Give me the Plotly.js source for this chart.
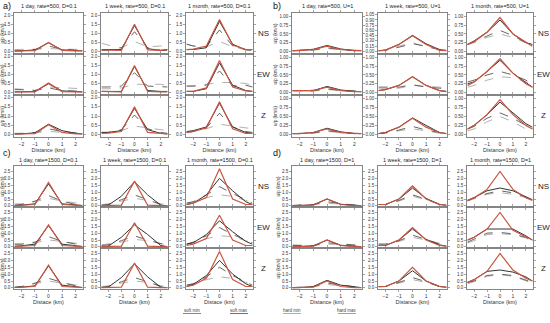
<!DOCTYPE html>
<html><head><meta charset="utf-8">
<script src="https://cdn.plot.ly/plotly-3.0.1.min.js"></script>
<style>html,body{margin:0;padding:0;background:#fff}#chart{width:550px;height:323px}</style>
</head><body><div id="chart"></div>
<script>
// Distance samples (km)
const distance = [-2.5, -2, -1, 0, 1, 2, 2.5];
// order inside each panel: NS-day, NS-week, NS-month, EW-day, EW-week, EW-month, Z-day, Z-week, Z-month
const timeLabels = ["1 day", "1 week", "1 month"];
const componentLabels = ["NS", "EW", "Z"];
const panelLabels = ["a)", "b)", "c)", "d)"];
const panelRates = ["rate=500, D=0.1", "rate=500, U=1", "rate=1500, D=0.1", "rate=1500, D=1"];
const legendLabels = ["soft min", "soft max", "hard min", "hard max"];

const aRed = [
 [0.02,0.02,0.04,0.5,0.05,0.02,0.02],[0.08,0.08,0.05,1.52,0.08,0.05,0.1],[0.1,0.12,0.3,1.78,0.35,0.1,0.1],
 [0.02,0.02,0.03,0.52,0.04,0.02,0.02],[0.05,0.05,0.03,1.5,0.05,0.03,0.03],[0.05,0.06,0.25,1.78,0.3,0.08,0.05],
 [0.02,0.02,0.04,0.52,0.1,0.02,0.02],[0.05,0.06,0.15,1.5,0.1,0.02,0.02],[0.1,0.15,0.35,1.78,0.3,0.05,0.05]];
const aBlack = [
 [0.03,0.03,0.08,0.48,0.08,0.03,0.03],[0.1,0.1,0.1,1.45,0.15,0.05,0.1],[0.1,0.1,0.2,1.68,0.4,0.08,0.1],
 [0.02,0.02,0.05,0.48,0.08,0.05,0.02],[0.05,0.05,0.05,1.45,0.1,0.05,0.05],[0.05,0.05,0.2,1.65,0.4,0.1,0.05],
 [0.02,0.02,0.08,0.55,0.2,0.05,0.02],[0.1,0.1,0.2,1.42,0.25,0.05,0.02],[0.15,0.2,0.4,1.7,0.4,0.1,0.05]];
const aDash = [
 [0.02,0.03,0.1,0.3,0.12,0.05,0.03],[0.05,0.06,0.2,1.1,0.2,0.05,0.05],[0.4,0.3,0.25,1.2,0.3,0.1,0.05],
 [0.15,0.15,0.1,0.25,0.1,0.05,0.05],[0.3,0.3,0.35,1.1,0.35,0.3,0.3],[0.35,0.35,0.4,1.2,0.35,0.4,0.3],
 [0.02,0.03,0.1,0.3,0.15,0.05,0.03],[0.1,0.1,0.25,1.05,0.3,0.1,0.05],[0.1,0.15,0.35,1.15,0.4,0.15,0.1]];
const aLight = [
 [0.1,0.1,0.12,0.15,0.12,0.1,0.1],[0.45,0.35,0.2,0.55,0.25,0.3,0.4],[0.4,0.3,0.25,0.55,0.25,0.1,0.15],
 [0.2,0.18,0.12,0.3,0.25,0.22,0.2],[0.2,0.2,0.25,0.45,0.45,0.45,0.4],[0.35,0.35,0.45,0.55,0.55,0.5,0.4],
 [0.05,0.05,0.08,0.15,0.1,0.05,0.05],[0.1,0.1,0.2,0.45,0.35,0.25,0.2],[0.1,0.15,0.3,0.55,0.45,0.35,0.3]];

const bRed = [
 [0.02,0.02,0.05,0.15,0.05,0.02,0.02],[0.02,0.03,0.2,0.45,0.2,0.03,0.02],[0.2,0.28,0.55,0.97,0.5,0.25,0.15],
 [0.05,0.05,0.05,0.15,0.05,0.02,0.02],[0.05,0.08,0.2,0.45,0.2,0.05,0.02],[0.2,0.3,0.6,0.97,0.55,0.25,0.15],
 [0.02,0.02,0.05,0.15,0.05,0.02,0.02],[0.02,0.05,0.2,0.45,0.2,0.05,0.02],[0.15,0.25,0.55,0.97,0.55,0.25,0.15]];
const bBlack = [
 [0.02,0.03,0.06,0.17,0.07,0.02,0.02],[0.02,0.04,0.2,0.46,0.22,0.05,0.03],[0.2,0.3,0.55,0.9,0.5,0.25,0.2],
 [0.05,0.05,0.05,0.17,0.07,0.03,0.02],[0.05,0.08,0.2,0.45,0.2,0.05,0.03],[0.25,0.3,0.6,0.92,0.55,0.3,0.15],
 [0.02,0.02,0.05,0.17,0.07,0.02,0.02],[0.02,0.05,0.2,0.46,0.25,0.05,0.02],[0.15,0.25,0.55,0.9,0.6,0.3,0.2]];
const bDash = [
 [0.02,0.02,0.04,0.1,0.05,0.02,0.02],[0.02,0.03,0.12,0.22,0.15,0.05,0.03],[0.2,0.28,0.45,0.6,0.45,0.25,0.15],
 [0.05,0.05,0.04,0.1,0.05,0.03,0.02],[0.15,0.15,0.15,0.22,0.15,0.12,0.1],[0.3,0.35,0.5,0.6,0.5,0.35,0.25],
 [0.02,0.02,0.04,0.1,0.05,0.02,0.02],[0.02,0.04,0.12,0.22,0.12,0.04,0.02],[0.15,0.22,0.45,0.6,0.45,0.25,0.15]];
const bLight = [
 [0.02,0.02,0.04,0.08,0.04,0.02,0.02],[0.02,0.03,0.15,0.25,0.12,0.05,0.03],[0.2,0.25,0.4,0.5,0.4,0.25,0.15],
 [0.05,0.06,0.06,0.08,0.06,0.06,0.05],[0.1,0.1,0.12,0.2,0.18,0.15,0.12],[0.15,0.2,0.35,0.45,0.42,0.3,0.2],
 [0.02,0.02,0.03,0.08,0.04,0.02,0.02],[0.02,0.03,0.1,0.15,0.1,0.03,0.02],[0.1,0.15,0.35,0.5,0.35,0.15,0.1]];

const cRed = [
 [0.03,0.05,0.1,1.7,0.1,0.05,0.03],[0.02,0.02,0.05,1.8,0.05,0.02,0.02],[0.1,0.2,0.6,2.7,0.5,0.1,0.1],
 [0.03,0.05,0.1,1.6,0.1,0.05,0.03],[0.02,0.02,0.05,1.75,0.05,0.02,0.02],[0.1,0.2,0.6,2.3,0.5,0.1,0.1],
 [0.03,0.05,0.1,1.65,0.1,0.05,0.03],[0.02,0.02,0.05,1.8,0.05,0.02,0.02],[0.1,0.2,0.7,2.65,0.6,0.1,0.1]];
const cBlack = [
 [0.03,0.05,0.15,1.6,0.15,0.05,0.03],[0.02,0.05,0.7,1.75,0.8,0.05,0.02],[0.1,0.2,0.8,2.0,1.1,0.3,0.1],
 [0.05,0.08,0.2,1.55,0.2,0.05,0.03],[0.02,0.05,0.7,1.6,0.9,0.1,0.02],[0.2,0.3,0.9,1.9,1.1,0.4,0.2],
 [0.03,0.05,0.15,1.6,0.2,0.05,0.03],[0.02,0.05,0.75,1.75,0.8,0.05,0.02],[0.1,0.25,0.9,2.0,1.0,0.3,0.1]];
const cDash = [
 [0.05,0.1,0.35,0.75,0.35,0.1,0.05],[0.05,0.1,0.45,0.8,0.45,0.1,0.05],[0.2,0.3,0.8,1.4,0.9,0.4,0.2],
 [0.2,0.2,0.35,0.75,0.4,0.2,0.1],[0.1,0.15,0.45,0.8,0.5,0.2,0.1],[0.2,0.35,0.8,1.4,0.9,0.5,0.3],
 [0.05,0.1,0.35,0.7,0.4,0.15,0.1],[0.05,0.1,0.45,0.75,0.45,0.1,0.05],[0.2,0.3,0.8,1.5,0.9,0.4,0.2]];
const cLight = [
 [0.15,0.15,0.3,0.55,0.35,0.2,0.15],[0.1,0.15,0.35,0.55,0.4,0.15,0.1],[0.2,0.3,0.6,0.8,0.7,0.4,0.25],
 [0.2,0.2,0.3,0.5,0.4,0.25,0.2],[0.15,0.2,0.35,0.55,0.45,0.25,0.15],[0.2,0.3,0.6,0.8,0.75,0.45,0.3],
 [0.05,0.1,0.3,0.5,0.35,0.2,0.15],[0.1,0.15,0.35,0.5,0.4,0.15,0.1],[0.2,0.3,0.6,0.8,0.7,0.4,0.25]];

const dRed = [
 [0.02,0.02,0.05,0.5,0.1,0.02,0.02],[0.1,0.1,0.5,1.45,0.5,0.1,0.05],[0.4,0.6,1.2,2.5,1.2,0.6,0.4],
 [0.02,0.02,0.05,0.5,0.1,0.02,0.02],[0.1,0.1,0.5,1.4,0.5,0.1,0.05],[0.5,0.7,1.3,2.5,1.2,0.7,0.5],
 [0.02,0.02,0.05,0.5,0.1,0.02,0.02],[0.1,0.1,0.5,1.5,0.5,0.1,0.05],[0.4,0.6,1.2,2.5,1.3,0.7,0.5]];
const dBlack = [
 [0.02,0.02,0.08,0.5,0.12,0.03,0.02],[0.1,0.1,0.5,1.3,0.55,0.1,0.05],[0.4,0.6,1.1,1.3,1.1,0.7,0.45],
 [0.02,0.02,0.08,0.5,0.12,0.03,0.02],[0.1,0.1,0.5,1.3,0.55,0.15,0.05],[0.5,0.7,1.3,1.3,1.3,0.8,0.5],
 [0.02,0.02,0.1,0.55,0.2,0.05,0.02],[0.1,0.1,0.5,1.25,0.5,0.1,0.05],[0.4,0.6,1.2,1.3,1.15,0.8,0.5]];
const dDash = [
 [0.02,0.03,0.1,0.3,0.15,0.05,0.02],[0.1,0.1,0.4,0.8,0.5,0.1,0.05],[0.4,0.55,0.9,1.1,0.95,0.65,0.4],
 [0.1,0.1,0.1,0.3,0.2,0.1,0.1],[0.2,0.2,0.45,0.85,0.55,0.2,0.1],[0.35,0.55,1.0,1.05,0.95,0.7,0.45],
 [0.02,0.03,0.1,0.35,0.2,0.05,0.02],[0.1,0.1,0.4,0.75,0.45,0.1,0.05],[0.4,0.5,0.9,1.0,0.9,0.6,0.4]];
const dLight = [
 [0.05,0.05,0.1,0.2,0.1,0.05,0.05],[0.1,0.1,0.35,0.7,0.45,0.15,0.1],[0.35,0.5,0.85,0.95,0.85,0.6,0.35],
 [0.15,0.15,0.1,0.2,0.15,0.1,0.1],[0.2,0.2,0.4,0.7,0.5,0.25,0.15],[0.3,0.45,0.9,0.95,0.9,0.65,0.4],
 [0.02,0.02,0.08,0.25,0.15,0.05,0.02],[0.05,0.1,0.35,0.6,0.4,0.1,0.05],[0.3,0.45,0.85,0.95,0.85,0.55,0.35]];

const panels = [
  {red:aRed, black:aBlack, dash:aDash, light:aLight},
  {red:bRed, black:bBlack, dash:bDash, light:bLight},
  {red:cRed, black:cBlack, dash:cDash, light:cLight},
  {red:dRed, black:dBlack, dash:dDash, light:dLight}
];

const W = 550, H = 323;
const px = x => x / W;
const py = y => 1 - y / H;
const colsLeft = [[14,83],[101,168],[186,253]];
const colsRight = [[292,362],[378,447],[467,533]];
const rowsTop = [[13,54],[54,95],[95,137]];
const rowsBot = [[166,207],[207,248],[248,289]];
const fontFam = "Liberation Sans, Arial, sans-serif";

const data = [];
const layout = {
  width: W, height: H, margin:{l:0,r:0,t:0,b:0},
  paper_bgcolor:'#fff', plot_bgcolor:'#fff', showlegend:false,
  font:{family:fontFam, size:5, color:'#333'},
  annotations:[], shapes:[]
};

const styles = [
  {key:'light', color:'#a8a8a8', width:0.9, dash:'dash'},
  {key:'dash', color:'#555555', width:0.9, dash:'dash'},
  {key:'black', color:'#333333', width:1.0, dash:'solid'},
  {key:'red', color:'#c8553f', width:1.2, dash:'solid'}
];

for (let p = 0; p < 4; p++) {
  const cols = (p % 2 === 0) ? colsLeft : colsRight;
  const rows = (p < 2) ? rowsTop : rowsBot;
  let yr, dt, fmt;
  if (p === 0) { yr = [-0.15, 2.15]; dt = 0.5; fmt = '.1f'; }
  else if (p === 1) { yr = [-0.075, 1.1]; dt = 0.25; fmt = '.2f'; }
  else { yr = [-0.08, 2.9]; dt = 0.5; fmt = '.1f'; }
  for (let i = 0; i < 9; i++) {
    const r = Math.floor(i / 3), c = i % 3;
    const k = p * 9 + i + 1;
    const xa = 'x' + (k === 1 ? '' : k), ya = 'y' + (k === 1 ? '' : k);
    const xn = 'xaxis' + (k === 1 ? '' : k), yn = 'yaxis' + (k === 1 ? '' : k);
    styles.forEach(s => {
      data.push({x: distance, y: panels[p][s.key][i], type:'scatter', mode:'lines',
        xaxis: xa, yaxis: ya, line:{color:s.color, width:s.width, dash:s.dash}, hoverinfo:'skip'});
    });
    const common = {showline:true, mirror:'ticks', linecolor:'#666', linewidth:0.8,
      ticks:'outside', ticklen:2, tickwidth:0.6, tickcolor:'#666', showgrid:false, zeroline:false,
      tickfont:{size:4.5, color:'#333', family:fontFam}};
    layout[xn] = Object.assign({}, common, {
      domain:[px(cols[c][0]), px(cols[c][1])], range:[-2.55, 2.55],
      tickvals:[-2,-1,0,1,2], showticklabels: r === 2, anchor: ya,
      tickfont:{size:5, color:'#333', family:fontFam},
      title: r === 2 ? {text: p === 2 ? 'Distace (km)' : 'Distance (km)', font:{size:5.5, color:'#333'}, standoff:1} : {text:''}
    });
    let ydt = dt;
    if (p === 1 && i === 1) ydt = 0.15;
    layout[yn] = Object.assign({}, common, {
      domain:[py(rows[r][1]), py(rows[r][0])], range: yr, dtick: ydt, tick0:0, tickformat: fmt,
      anchor: xa,
      title: c === 0 ? {text:'u/p (km/s)', font:{size:4.5, color:'#333'}, standoff:1} : {text:''}
    });
  }
  // column titles
  const titleY = (p < 2) ? 6 : 160;
  for (let c = 0; c < 3; c++) {
    layout.annotations.push({xref:'paper', yref:'paper', x: px((cols[c][0]+cols[c][1])/2), y: py(titleY),
      text: timeLabels[c] + ', ' + panelRates[p], showarrow:false, font:{size:5.5, color:'#222'},
      xanchor:'center', yanchor:'middle'});
  }
  // row labels
  for (let r = 0; r < 3; r++) {
    layout.annotations.push({xref:'paper', yref:'paper', x: px(cols[2][1] + 10), y: py((rows[r][0]+rows[r][1])/2),
      text: componentLabels[r], showarrow:false, font:{size:8, color:'#222'}, xanchor:'center', yanchor:'middle'});
  }
  // panel label
  layout.annotations.push({xref:'paper', yref:'paper', x: px(p % 2 === 0 ? 1 : 271), y: py(p < 2 ? 6 : 153),
    text: panelLabels[p], showarrow:false, font:{size:9, color:'#111'}, xanchor:'left', yanchor:'middle'});
}

// bottom legend
const legendX = [192, 239, 292, 347];
const legendColor = ['#555', '#333', '#888', '#c8553f'];
legendLabels.forEach((t, j) => {
  layout.annotations.push({xref:'paper', yref:'paper', x: px(legendX[j]), y: py(310), text: t,
    showarrow:false, font:{size:4.5, color:'#444'}, xanchor:'center', yanchor:'middle'});
  layout.shapes.push({type:'line', xref:'paper', yref:'paper', x0: px(legendX[j]-9), x1: px(legendX[j]+9),
    y0: py(313.5), y1: py(313.5), line:{color: legendColor[j], width:0.7}});
});

Plotly.newPlot('chart', data, layout, {staticPlot:true, displayModeBar:false});
</script></body></html>
